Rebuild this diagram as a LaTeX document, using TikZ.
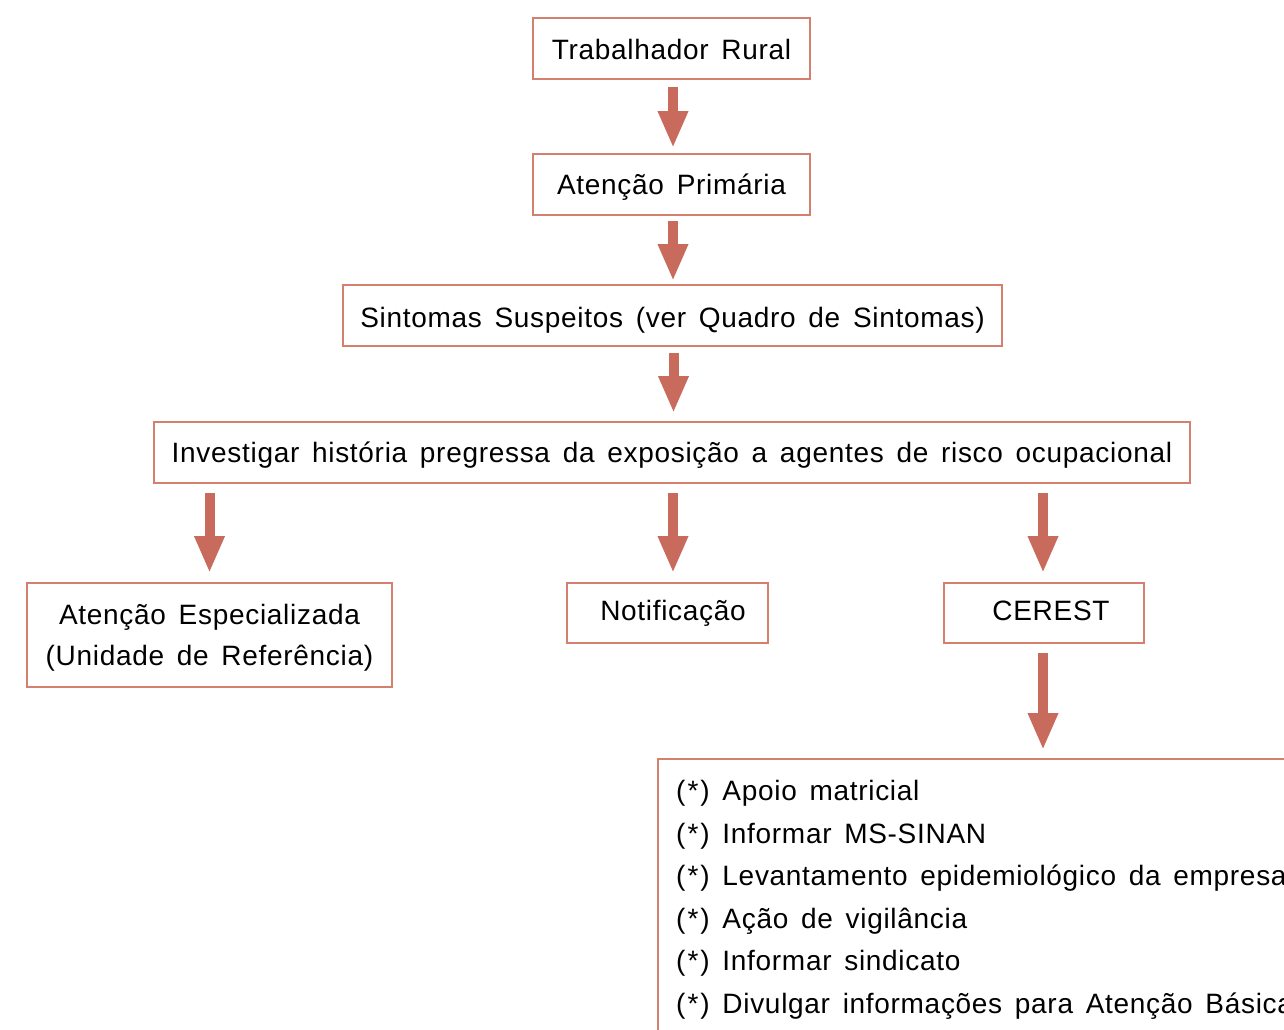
\documentclass[tikz,border=0pt]{standalone}
\usepackage{fontspec}
\setmainfont{Liberation Sans}[LetterSpace=2.5,WordSpace=1.5]
\usetikzlibrary{arrows.meta,calc}
\definecolor{boxred}{HTML}{D4806F}
\definecolor{arrred}{HTML}{C86B5C}
\newcommand{\myast}{(\kern2pt*\kern2pt)}
\begin{document}
\begin{tikzpicture}[x=1pt,y=-1pt,
  box/.style={draw=boxred,line width=2pt,inner sep=0pt,text depth=0pt,font=\fontsize{28}{34}\selectfont},
  bigarr/.style={draw=arrred,line width=10pt,-{Triangle[width=28pt 0,length=37pt 0]}}]
\useasboundingbox (0,0) rectangle (1284,1029);
\clip (0,0) rectangle (1284,1029);
\node[box,minimum width=277pt,minimum height=61pt] (b1) at (671.5,48.5) {\raisebox{-2pt}{Trabalhador Rural}};
\node[box,minimum width=277pt,minimum height=61pt] (b2) at (671.5,184.5) {Atenção Primária};
\node[box,minimum width=659pt,minimum height=61pt] (b3) at (672.5,315.5) {\raisebox{-3pt}{Sintomas Suspeitos (ver Quadro de Sintomas)}};
\node[box,minimum width=1036pt,minimum height=61pt] (b4) at (672,452.5) {Investigar história pregressa da exposição a agentes de risco ocupacional};
\node[box,minimum width=365pt,minimum height=104pt,align=center] (b5) at (209.5,635) {\raisebox{-5pt}{Atenção Especializada}\\[12pt](Unidade de Referência)};
\node[box,minimum width=201pt,minimum height=60pt] (b6) at (667.5,613) {\raisebox{6pt}{\hspace{11pt}Notificação}};
\node[box,minimum width=200pt,minimum height=60pt] (b7) at (1044,613) {\raisebox{5pt}{\hspace{14pt}CEREST}};
\node[box,anchor=north west,minimum width=700pt,minimum height=320pt] (b8) at (657,758) {};
\node[anchor=north west,inner sep=0pt,align=left,font=\fontsize{28}{42.6}\selectfont] (list) at (676,780)
 {\myast{} Apoio matricial\\
  \myast{} Informar MS-SINAN\\
  \myast{} Levantamento epidemiológico da empresa\\
  \myast{} Ação de vigilância\\
  \myast{} Informar sindicato\\
  \myast{} Divulgar informações para Atenção Básica};
\draw[bigarr,shorten <=7pt,shorten >=5pt] ([xshift=1.5pt]b1.south) -- ([xshift=1.5pt]b2.north);
\draw[bigarr,shorten <=5pt,shorten >=3pt] ([xshift=1.5pt]b2.south) -- ([xshift=1.5pt]b3.north -| b2.south);
\draw[bigarr,shorten <=6pt,shorten >=8pt] ([xshift=1pt]b3.south) -- ([xshift=1pt]b4.north -| b3.south);
\draw[bigarr,shorten <=9pt,shorten >=9pt] (b4.south -| b5.north) -- (b5.north);
\draw[bigarr,shorten <=9pt,shorten >=9pt] ([xshift=5.5pt]b4.south -| b6.north) -- ([xshift=5.5pt]b6.north);
\draw[bigarr,shorten <=9pt,shorten >=9pt] ([xshift=-1pt]b4.south -| b7.north) -- ([xshift=-1pt]b7.north);
\draw[bigarr,shorten <=9pt,shorten >=8pt] ([xshift=-1pt]b7.south) -- ([xshift=-1pt]b8.north -| b7.south);
\end{tikzpicture}
\end{document}
